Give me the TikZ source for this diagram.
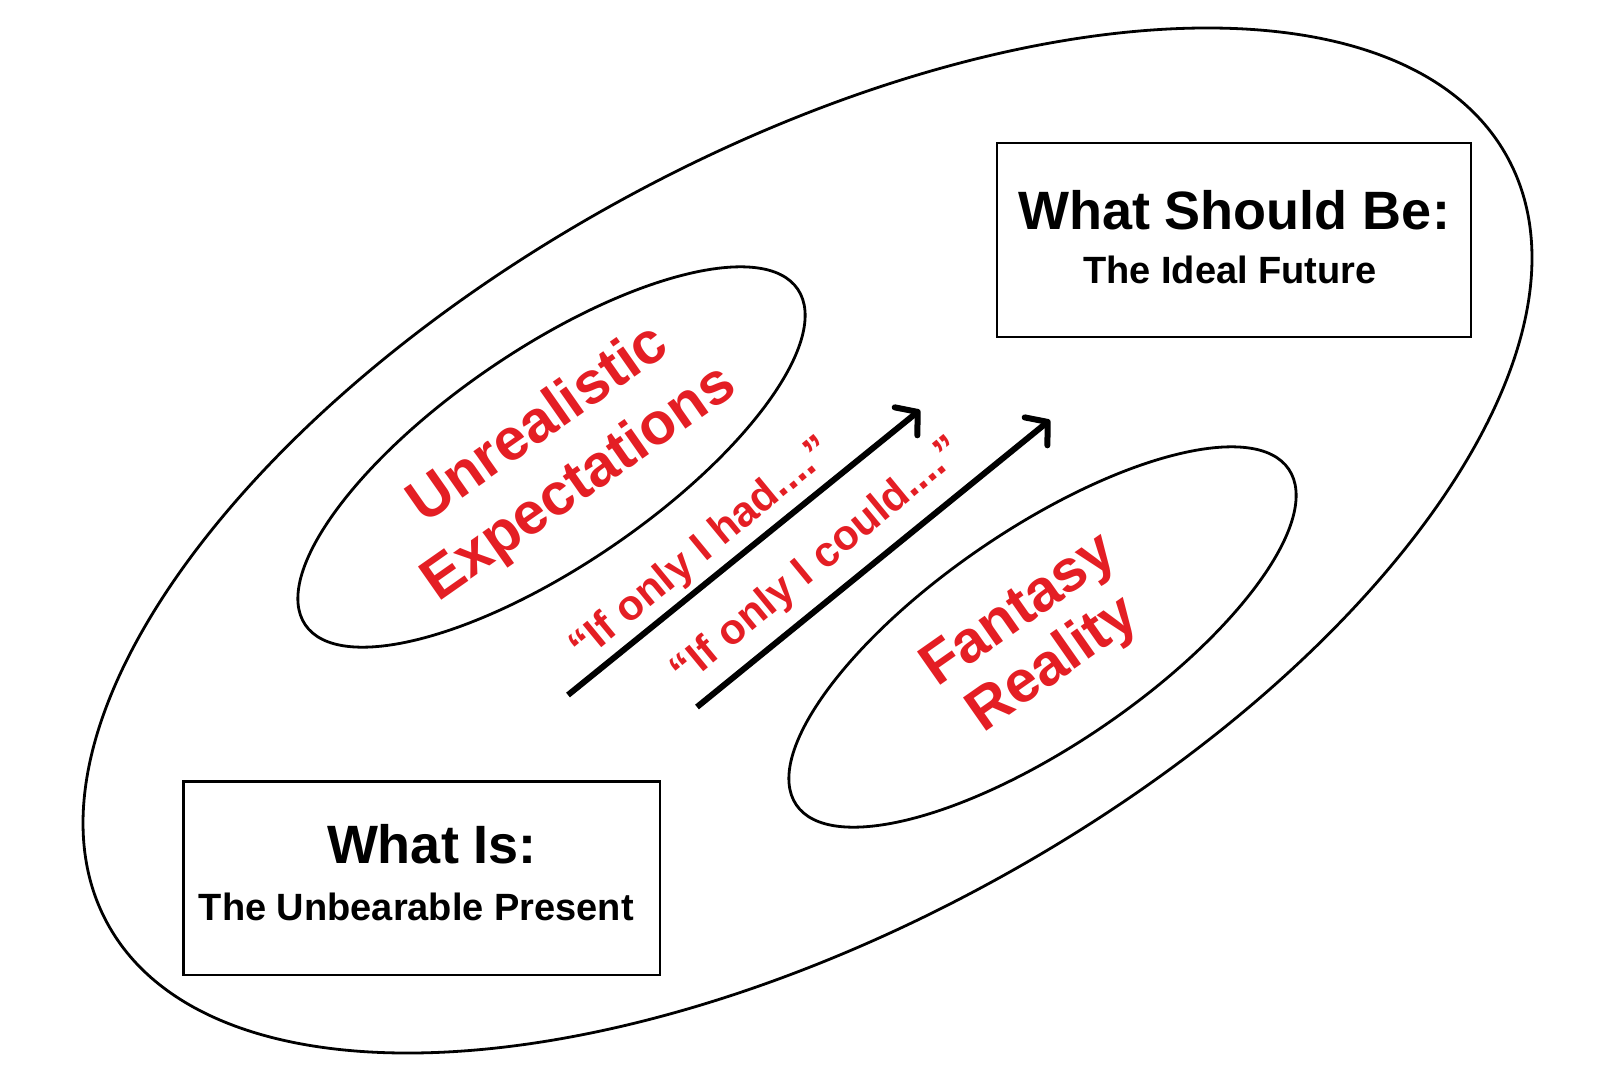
\documentclass[tikz,border=0pt]{standalone}
\usepackage{fontspec}
\setmainfont{Liberation Sans}
\usetikzlibrary{shapes.geometric,arrows.meta}
\definecolor{txtred}{RGB}{228,30,36}
\begin{document}
\begin{tikzpicture}[x=1pt,y=-1pt,
  oval/.style={draw=black, line width=2.8pt, ellipse, inner sep=0pt},
  titlebox/.style={draw=black, line width=2.8pt, rectangle, inner sep=0pt},
  bigtxt/.style={font=\bfseries\fontsize{54}{60}\selectfont, inner sep=0pt, anchor=base},
  smalltxt/.style={font=\bfseries\fontsize{38}{44}\selectfont, inner sep=0pt, anchor=base},
  redbig/.style={text=txtred, font=\bfseries\fontsize{59}{70}\selectfont, inner sep=0pt, anchor=base, rotate=35},
  quote/.style={text=txtred, font=\bfseries\fontsize{42.5}{50}\selectfont, inner sep=0pt, anchor=base, rotate=39.5},
  wish/.style={line width=6pt, -{Straight Barb[length=15pt,width=36pt,round]}}
]
\useasboundingbox[fill=white] (0,0) rectangle (1600,1076);

\node[oval, minimum width=1596pt, minimum height=776pt, rotate=28.7] (outer) at (807.5,540.5) {};
\node[oval, minimum width=596pt, minimum height=216pt, rotate=34.3] (unreal) at (551.5,457) {};
\node[oval, minimum width=596pt, minimum height=216pt, rotate=34.3] (fantasy) at (1042.5,637) {};

\node[titlebox, minimum width=474pt, minimum height=194pt] (should) at (1234,240) {};
\node[bigtxt] (shouldtitle) at (1234,229.6) {What Should Be:};
\node[smalltxt] (shouldsub) at (1230,283.7) {The Ideal Future};

\node[titlebox, minimum width=476.7pt, minimum height=193.3pt] (is) at (421.7,878.3) {};
\node[bigtxt] (istitle) at (432,863) {What Is:};
\node[smalltxt] (issub) at (416.3,920) {The Unbearable Present};

\node[redbig] (t1) at (548,438) {Unrealistic};
\node[redbig] (t2) at (588.5,497) {Expectations};
\node[redbig] (t3) at (1028.4,624) {Fantasy};
\node[redbig] (t4) at (1062.5,677.8) {Reality};

\node[quote] (q1) at (709,559) {“If only I had....”};
\node[quote] (q2) at (825,571) {“If only I could....”};

\coordinate (a1s) at (568,695);
\coordinate (a1e) at (920,410);
\coordinate (a2s) at (697,707);
\coordinate (a2e) at (1050,420);
\draw[wish] (a1s) -- (a1e);
\draw[wish] (a2s) -- (a2e);
\end{tikzpicture}
\end{document}
